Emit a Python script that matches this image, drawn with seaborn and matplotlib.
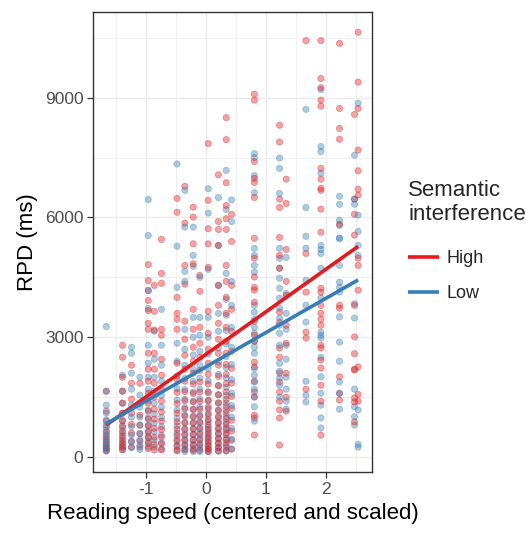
import matplotlib
matplotlib.use("Agg")
import matplotlib.pyplot as plt
from matplotlib.ticker import FixedLocator
import seaborn as sns
import pandas as pd

# Reading speed of each participant (centered and scaled)
speed_levels = [-1.66, -1.39, -1.24, -1.10, -0.96, -0.86, -0.74, -0.48, -0.35,
                -0.21, -0.10, 0.04, 0.21, 0.34, 0.43, 0.81, 1.23, 1.34, 1.67,
                1.92, 2.23, 2.48, 2.54]

# RPD (ms) per participant, high semantic interference
rpd_high = [
    [1650, 1150, 900, 750, 620, 520, 440, 370, 300, 240, 190, 150],
    [2800, 2500, 2000, 1650, 1350, 1100, 920, 780, 650, 530, 420, 330, 250, 180],
    [2300, 1850, 1450, 1100, 820, 600, 400, 250],
    [1850, 1350, 1050, 800, 580, 400, 250],
    [4820, 4420, 4170, 3920, 3670, 3350, 3200, 2600, 2200, 1900, 1600, 1350, 1150, 950, 780, 620, 480, 340, 210],
    [4300, 3650, 3180, 2600, 2200, 1850, 1500, 1200, 950, 720, 500, 320, 180],
    [5450, 4600, 4350, 3200, 3050, 2450, 2050, 1700, 1400, 1130, 900, 690, 500, 330, 180],
    [6480, 6130, 4000, 3600, 3450, 3200, 2350, 1950, 1620, 1340, 1100, 880, 700, 540, 400, 270, 160],
    [6780, 5860, 4800, 4330, 3400, 2950, 2550, 2200, 1900, 1640, 1410, 1200, 1020, 850, 690, 550, 410, 290, 180],
    [6260, 6010, 5340, 4840, 3700, 3200, 2750, 2400, 2100, 1830, 1590, 1380, 1190, 1010, 850, 700, 560, 420, 290, 170],
    [4550, 4150, 3250, 2850, 2500, 2170, 1880, 1630, 1400, 1200, 1020, 860, 710, 570, 430, 300, 170],
    [7850, 6430, 5720, 5340, 4750, 3650, 3100, 2700, 2350, 2070, 1830, 1610, 1420, 1250, 1090, 940, 810, 690, 580, 470, 370, 280, 200, 140],
    [7070, 5900, 5700, 5300, 4300, 3800, 3350, 2950, 2600, 2300, 2020, 1780, 1560, 1360, 1180, 1020, 870, 730, 600, 470, 350, 240, 150],
    [8500, 7950, 6870, 6300, 5970, 5700, 4800, 4400, 4000, 3600, 3250, 2900, 2600, 2320, 2070, 1840, 1630, 1440, 1270, 1110, 960, 820, 690, 560, 430, 300, 160],
    [6080, 5400, 4300, 3700, 3150, 2650, 2220, 1850, 1520, 1220, 920, 650, 420, 200],
    [9090, 8940, 7400, 6980, 6880, 6500, 5480, 4980, 4510, 4250, 4180, 3880, 3400, 3050, 2900, 2380, 2260, 1900, 1630, 1510, 1050, 980, 550],
    [8310, 7890, 6460, 6250, 5500, 5050, 4730, 3630, 3380, 2730, 2500, 2100, 1880, 1630, 1400, 1180, 980, 300],
    [6960, 6350, 5200, 4400, 4050, 3300, 2850, 2100, 1500, 1150],
    [10430, 5100, 4130, 3130, 2980, 1700],
    [10430, 9480, 9250, 8940, 8790, 7230, 6960, 6730, 6680, 6210, 5630, 4230, 4130, 3800, 3600, 3450, 3300, 2800, 2730, 2430, 2230, 1800, 1400, 550],
    [10360, 8730, 8230, 7960, 5830, 3800, 3730, 2010, 1600, 1430],
    [8580, 6460, 6080, 5560, 3800, 3010, 2590, 2200, 2180, 1480, 1380, 880],
    [10640, 9390, 8730, 7690, 7170, 6710, 6560, 4980, 4800, 4180, 2260, 1570, 1400],
]

# RPD (ms) per participant, low semantic interference
rpd_low = [
    [3270, 1650, 1300, 1100, 930, 800, 670, 560, 460, 370, 290, 220, 160],
    [2050, 1650, 1350, 1100, 900, 740, 600, 480, 370, 270, 190],
    [2750, 2600, 2100, 1700, 1300, 1000, 760, 550, 380, 230],
    [2000, 1550, 1250, 1000, 800, 600, 440, 300, 190],
    [6450, 5550, 4170, 3720, 2800, 2350, 2000, 1700, 1420, 1180, 980, 800, 650, 510, 380, 250],
    [3150, 2450, 2000, 1650, 1350, 1080, 850, 630, 430, 250],
    [3700, 2800, 2300, 1900, 1550, 1250, 990, 760, 550, 360, 200],
    [7340, 5280, 4250, 2850, 2400, 2030, 1710, 1430, 1180, 970, 780, 600, 440, 300, 170],
    [6680, 5760, 4650, 4400, 3200, 2700, 2300, 1970, 1690, 1450, 1240, 1050, 870, 710, 570, 440, 320, 210, 140],
    [5760, 5050, 4780, 3500, 3000, 2560, 2200, 1900, 1630, 1400, 1200, 1020, 860, 710, 570, 440, 320, 210, 140],
    [4500, 3500, 3050, 2650, 2300, 1980, 1700, 1460, 1250, 1060, 890, 740, 600, 460, 340, 230, 140],
    [6720, 6110, 4700, 3500, 3000, 2580, 2220, 1910, 1640, 1410, 1210, 1040, 890, 750, 630, 520, 410, 310, 210, 140],
    [6500, 5300, 4300, 3600, 3150, 2740, 2380, 2070, 1800, 1560, 1350, 1160, 990, 840, 700, 570, 450, 340, 240, 150],
    [7180, 6200, 4600, 3950, 3550, 3170, 2830, 2520, 2240, 1980, 1750, 1540, 1350, 1180, 1020, 870, 730, 600, 470, 350, 240, 150],
    [6440, 5900, 4400, 3800, 3250, 2750, 2320, 1940, 1600, 1290, 1000, 720, 450, 200],
    [7600, 7500, 7050, 6620, 5230, 5050, 4800, 4630, 3800, 3630, 3450, 3250, 3100, 2900, 2750, 2600, 2220, 2050, 1880, 1700, 1500, 1260, 900],
    [7490, 7230, 6600, 5230, 4980, 4730, 4480, 4230, 3980, 3730, 3480, 3300, 3100, 2800, 2350, 2150, 1980, 1800, 1500],
    [5000, 4100, 3600, 3200, 2800, 2450, 2000, 1700, 1400, 1200],
    [8710, 6250, 5530, 5230, 4430, 3800, 3380, 1900, 1550, 1380],
    [9200, 7780, 7650, 7110, 5300, 5200, 5100, 4730, 3980, 3130, 3050, 2980, 2500, 2010, 1600, 1300, 980, 730],
    [6530, 6330, 5930, 5800, 5480, 5480, 4800, 4380, 4250, 4130, 3510, 2880, 2400, 1880, 1590, 1200],
    [7560, 6330, 6460, 3840, 3480, 1700, 1260, 1010, 800],
    [8860, 6060, 5650, 5300, 5050, 1180, 320, 250],
]

groups = ["High", "Low"]
palette = {"High": "#E41A1C", "Low": "#377EB8"}

rows = []
for x, hi, lo in zip(speed_levels, rpd_high, rpd_low):
    n = max(len(hi), len(lo))
    for i in range(n):
        if i < len(hi):
            rows.append((x, hi[i], "High"))
        if i < len(lo):
            rows.append((x, lo[i], "Low"))
df = pd.DataFrame(rows, columns=["speed", "rpd", "interference"])

sns.set_theme(style="white")
plt.rcParams["font.family"] = ["Liberation Sans", "DejaVu Sans"]

fig = plt.figure(figsize=(5.26, 5.33), dpi=100)
ax = fig.add_axes([0.177, 0.114, 0.53, 0.863])

sns.scatterplot(data=df, x="speed", y="rpd", hue="interference", palette=palette,
                hue_order=groups, alpha=0.4, s=20, linewidth=0.6,
                legend=False, ax=ax, zorder=3)
# give every point an outline in its own colour
coll = ax.collections[0]
coll.set_edgecolors(coll.get_facecolors())

for g in groups:
    sub = df[df["interference"] == g]
    sns.regplot(data=sub, x="speed", y="rpd", scatter=False, ci=None,
                truncate=True, color=palette[g], label=g,
                line_kws={"linewidth": 2.6, "solid_capstyle": "butt", "zorder": 4},
                ax=ax)

ax.set_xlim(-1.88, 2.77)
ax.set_ylim(-380, 11140)
ax.xaxis.set_major_locator(FixedLocator([-1, 0, 1, 2]))
ax.xaxis.set_minor_locator(FixedLocator([-1.5, -0.5, 0.5, 1.5, 2.5]))
ax.yaxis.set_major_locator(FixedLocator([0, 3000, 6000, 9000]))
ax.yaxis.set_minor_locator(FixedLocator([1500, 4500, 7500, 10500]))
ax.set_xticklabels(["-1", "0", "1", "2"])
ax.set_yticklabels(["0", "3000", "6000", "9000"])

ax.grid(True, which="major", color="#EBEBEB", linewidth=1.0, zorder=0)
ax.grid(True, which="minor", color="#F0F0F0", linewidth=0.7, zorder=0)
ax.set_axisbelow(True)
for sp in ax.spines.values():
    sp.set_color("#333333")
    sp.set_linewidth(1.0)

ax.tick_params(axis="both", which="major", direction="out", length=4, width=0.9,
               color="#333333", labelcolor="#4D4D4D", labelsize=12.5, pad=3,
               bottom=True, left=True)
ax.tick_params(axis="both", which="minor", length=0)

ax.set_xlabel("Reading speed (centered and scaled)", fontsize=16, color="black", labelpad=4)
ax.set_ylabel("RPD (ms)", fontsize=16, color="black", labelpad=5)

handles = ax.lines[:2]
leg = ax.legend(handles=handles, labels=groups, title="Semantic\ninterference",
                loc="upper left", bbox_to_anchor=(0.776, 0.663),
                bbox_transform=fig.transFigure, frameon=False, fontsize=13,
                title_fontsize=16, handlelength=1.7, handletextpad=0.45,
                labelspacing=1.0, borderaxespad=0, borderpad=0)
leg._legend_box.align = "left"
leg._legend_box.sep = 18

fig.savefig("out.png", dpi=100)
